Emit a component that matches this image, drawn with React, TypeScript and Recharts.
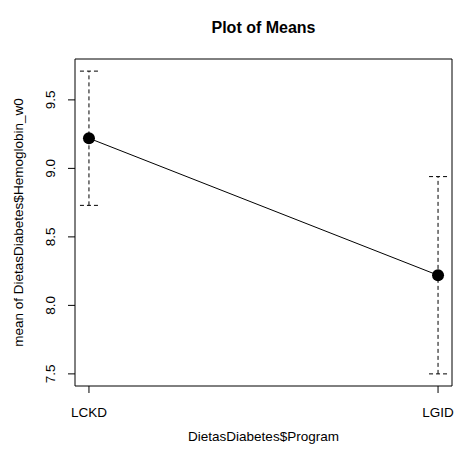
import React from 'react';
import { LineChart, Line, XAxis, YAxis, ErrorBar, ReferenceArea } from 'recharts';

const categories = ['LCKD', 'LGID'];
const means = [9.22, 8.22];
const lowerCI = [8.73, 7.5];
const upperCI = [9.71, 8.94];
const yTicks = [7.5, 8.0, 8.5, 9.0, 9.5];
const xPositions = [1, 2];

const title = 'Plot of Means';
const xTitle = 'DietasDiabetes$Program';
const yTitle = 'mean of DietasDiabetes$Hemoglobin_w0';

const data = categories.map((c, i) => ({
  x: xPositions[i],
  name: c,
  mean: means[i],
  err: [means[i] - lowerCI[i], upperCI[i] - means[i]],
}));

const FONT = '"Liberation Sans", Arial, sans-serif';

const yMinData = Math.min(...lowerCI);
const yMaxData = Math.max(...upperCI);
const yPad = (yMaxData - yMinData) * 0.04;
const yDomain: [number, number] = [yMinData - yPad, yMaxData + yPad];
const xDomain: [number, number] = [1 - 0.04, 2 + 0.04];

const YTick = (props: any) => {
  const { x, y, payload } = props;
  return (
    <text
      transform={`translate(${x - 11}, ${y}) rotate(-90)`}
      textAnchor="middle"
      fontFamily={FONT}
      fontSize={13.5}
      fill="#000"
    >
      {Number(payload.value).toFixed(1)}
    </text>
  );
};

const XTick = (props: any) => {
  const { x, y, payload } = props;
  const idx = xPositions.indexOf(payload.value);
  return (
    <text x={x} y={y + 22} textAnchor="middle" fontFamily={FONT} fontSize={13.5} fill="#000">
      {idx >= 0 ? categories[idx] : ''}
    </text>
  );
};

const Dot = (props: any) => {
  const { cx, cy } = props;
  return <circle cx={cx} cy={cy} r={6} fill="#000" stroke="none" />;
};

export default function App() {
  return (
    <div style={{ position: 'absolute', left: 0, top: 0, background: '#fff' }}>
      <LineChart
        width={454}
        height={451}
        data={data}
        margin={{ top: 59, right: 2, left: 0, bottom: 0 }}
      >
        <XAxis
          dataKey="x"
          type="number"
          domain={xDomain}
          ticks={xPositions}
          allowDataOverflow
          height={65}
          axisLine={false}
          tickLine={{ stroke: '#000' }}
          tickSize={7}
          tickMargin={2}
          tick={<XTick />}
          label={(p: any) => {
            const vb = p.viewBox;
            return (
              <text
                x={vb.x + vb.width / 2}
                y={vb.y + 55}
                textAnchor="middle"
                fontFamily={FONT}
                fontSize={13.5}
                fill="#000"
              >
                {xTitle}
              </text>
            );
          }}
        />
        <YAxis
          type="number"
          domain={yDomain}
          ticks={yTicks}
          allowDataOverflow
          width={75}
          axisLine={false}
          tickLine={{ stroke: '#000' }}
          tickSize={7}
          tickMargin={2}
          tick={<YTick />}
          label={(p: any) => {
            const vb = p.viewBox;
            const cy = vb.y + vb.height / 2;
            return (
              <text
                transform={`translate(23, ${cy}) rotate(-90)`}
                textAnchor="middle"
                fontFamily={FONT}
                fontSize={13.5}
                fill="#000"
              >
                {yTitle}
              </text>
            );
          }}
        />
        <ReferenceArea
          x1={xDomain[0]}
          x2={xDomain[1]}
          y1={yDomain[0]}
          y2={yDomain[1]}
          fill="none"
          stroke="#000"
          strokeWidth={1}
          ifOverflow="visible"
        />
        <Line
          dataKey="mean"
          stroke="#000"
          strokeWidth={1}
          dot={<Dot />}
          activeDot={false}
          isAnimationActive={false}
        >
          <ErrorBar
            dataKey="err"
            direction="y"
            width={9}
            stroke="#000"
            strokeWidth={1}
            strokeDasharray="4 3"
            isAnimationActive={false}
          />
        </Line>
        <text
          x={263.5}
          y={33}
          textAnchor="middle"
          fontFamily={FONT}
          fontSize={16}
          fontWeight="bold"
          fill="#000"
        >
          {title}
        </text>
      </LineChart>
    </div>
  );
}
